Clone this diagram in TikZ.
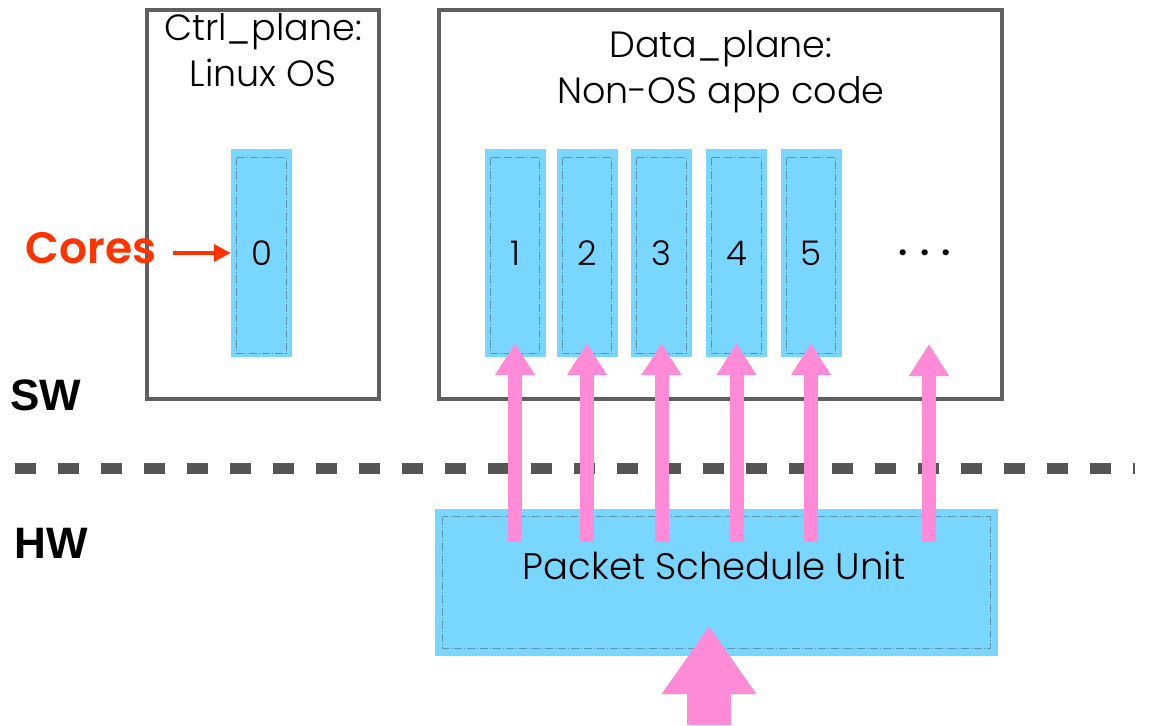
\documentclass[tikz,border=0pt]{standalone}
\usepackage{fontspec}
\setmainfont{Poppins}[UprightFont={* Light},BoldFont={* SemiBold}]
\newfontfamily\labfont{Liberation Sans}
\usetikzlibrary{arrows.meta,calc}
\definecolor{corefill}{HTML}{78D6FF}
\definecolor{boxgray}{HTML}{5F5F5F}
\definecolor{pinkc}{HTML}{FF8AD8}
\definecolor{redc}{HTML}{FF3300}
\definecolor{dashgray}{HTML}{555555}
\definecolor{innerc}{HTML}{5E93A8}
\begin{document}
\begin{tikzpicture}[x=1pt,y=-1pt,
  planebox/.style={draw=boxgray,line width=4pt,inner sep=0pt},
  title/.style={align=center,font=\fontsize{36.5}{46}\selectfont,inner sep=0pt},
  core/.style={fill=corefill,minimum width=61pt,minimum height=208pt,inner sep=0pt,font=\fontsize{34}{40}\selectfont},
  innerdash/.style={draw=innerc,line width=0.9pt,dash pattern=on 8pt off 2pt on 1pt off 2pt},
  parrow/.style={draw=pinkc,line width=14pt,-{Triangle[length=32pt,width=38pt]}},
  bigarrow/.style={draw=pinkc,line width=44pt,-{Triangle[length=68pt,width=90pt]}},
  redarrow/.style={draw=redc,line width=4pt,-{Triangle[length=17pt,width=17pt]}},
  hwsw/.style={font=\labfont\bfseries\fontsize{44}{50}\selectfont,inner sep=0pt},
  sep/.style={draw=dashgray,line width=11pt,dash pattern=on 21pt off 22pt}
]
\useasboundingbox (0,0) rectangle (1153,725);

% plane boxes
\node[planebox,minimum width=232pt,minimum height=389pt] (ctrl) at (263,204.5) {};
\node[planebox,minimum width=563pt,minimum height=389pt] (data) at (720.5,204.5) {};
\node[title] (ctrlt) at (263,50) {Ctrl\_plane:\\Linux OS};
\node[title] (datat) at (721,72) {Data\_plane:\\Non-OS app code};

% cores
\node[core] (c0) at (261.5,253) {0};
\node[core] (c1) at (515,253) {1};
\node[core] (c2) at (587,253) {2};
\node[core] (c3) at (661.5,253) {3};
\node[core] (c4) at (736.5,253) {4};
\node[core] (c5) at (811,253) {5};
\node[font=\fontsize{36}{40}\selectfont\bfseries,inner sep=0pt] (dots) at (925,253) {.\hspace{12pt}.\hspace{12pt}.};
\coordinate (more) at (929,344);

% separator
\coordinate (sepl) at (15,468);
\coordinate (sepr) at (1135,468);
\draw[sep] (sepl) -- (sepr);

% packet schedule unit
\node[fill=corefill,minimum width=563pt,minimum height=147pt,inner sep=0pt] (psu) at (716.5,582.5) {};
\foreach \c in {c0,c1,c2,c3,c4,c5}
  \draw[innerdash] ([shift={(6,9)}]\c.north west) rectangle ([shift={(-6,-4)}]\c.south east);
\draw[innerdash] ([shift={(8,8)}]psu.north west) rectangle ([shift={(-8,-8)}]psu.south east);
\node[font=\fontsize{37}{40}\selectfont,inner sep=0pt] (psut) at (714,566) {Packet Schedule Unit};

% arrows to cores
\foreach \c in {c1,c2,c3,c4,c5}
  \draw[parrow] ($(psu.north -| \c.south)+(0,33)$) -- ($(\c.south)+(0,-14)$);
\draw[parrow] ($(psu.north -| more)+(0,33)$) -- (more);

% big input arrow
\coordinate (bigin) at (709,725);
\coordinate (bigtip) at (709,626);
\draw[bigarrow] (bigin) -- (bigtip);

% labels
\node[font=\bfseries\fontsize{44}{48}\selectfont,text=redc,inner sep=0pt] (cores) at (91,248) {Cores};
\draw[redarrow] ($(cores.east |- c0.west)+(16,0)$) -- (c0.west);
\node[hwsw] (sw) at (46,395) {SW};
\node[hwsw] (hw) at (51,543) {HW};
\end{tikzpicture}
\end{document}
